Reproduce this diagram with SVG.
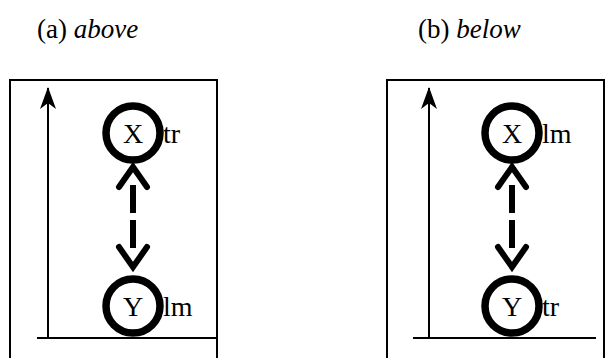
<svg xmlns="http://www.w3.org/2000/svg" width="616" height="358" viewBox="0 0 616 358">
<style>
.frame{fill:none;stroke:#000;stroke-width:2}
.axis{fill:none;stroke:#000;stroke-width:2}
.node{fill:#fff;stroke:#000;stroke-width:7.5}
.lbl{font-family:"Liberation Serif","Times New Roman",serif;font-size:28px;fill:#000}
.ttl{font-family:"Liberation Serif","Times New Roman",serif;font-size:27px;fill:#000}
.dash{fill:none;stroke:#000;stroke-width:6;stroke-dasharray:28 7}
.head{fill:none;stroke:#000;stroke-width:6;stroke-linecap:round;stroke-linejoin:miter}
</style>
<defs>
<marker id="ah" viewBox="0 0 22 16" refX="21" refY="8" markerWidth="22" markerHeight="16" markerUnits="userSpaceOnUse" orient="auto">
<path d="M0,0 L22,8 L0,16 L6,8 Z" fill="#000"/>
</marker>
</defs>
<text class="ttl" x="37" y="38">(a) <tspan font-style="italic">above</tspan></text>
<text class="ttl" x="418" y="38">(b) <tspan font-style="italic">below</tspan></text>
<g id="panel-a">
<rect class="frame" x="10" y="80" width="207" height="290"/>
<line class="axis" x1="37" y1="338" x2="217" y2="338"/>
<line class="axis" x1="48" y1="338" x2="48" y2="88" marker-end="url(#ah)"/>
</g>
<g id="panel-b">
<rect class="frame" x="387" y="80" width="217" height="290"/>
<line class="axis" x1="413" y1="338" x2="596" y2="338"/>
<line class="axis" x1="429" y1="338" x2="429" y2="88" marker-end="url(#ah)"/>
</g>
<g id="connectors">
<line class="dash" x1="133" y1="185" x2="133" y2="249"/>
<polyline class="head" points="119,187 133,167 147,187"/>
<polyline class="head" points="119,247 133,267 147,247"/>
<line class="dash" x1="512" y1="185" x2="512" y2="249"/>
<polyline class="head" points="498,187 512,167 526,187"/>
<polyline class="head" points="498,247 512,267 526,247"/>
</g>
<g id="a-X">
<circle class="node" cx="133" cy="133" r="27"/>
<text class="lbl" x="133" y="143" text-anchor="middle">X</text>
<text class="lbl" x="163" y="143">tr</text>
</g>
<g id="a-Y">
<circle class="node" cx="133" cy="306" r="27"/>
<text class="lbl" x="133" y="316" text-anchor="middle">Y</text>
<text class="lbl" x="163" y="316">lm</text>
</g>
<g id="b-X">
<circle class="node" cx="512" cy="133" r="27"/>
<text class="lbl" x="512" y="143" text-anchor="middle">X</text>
<text class="lbl" x="542" y="143">lm</text>
</g>
<g id="b-Y">
<circle class="node" cx="512" cy="306" r="27"/>
<text class="lbl" x="512" y="316" text-anchor="middle">Y</text>
<text class="lbl" x="542" y="316">tr</text>
</g>
</svg>
